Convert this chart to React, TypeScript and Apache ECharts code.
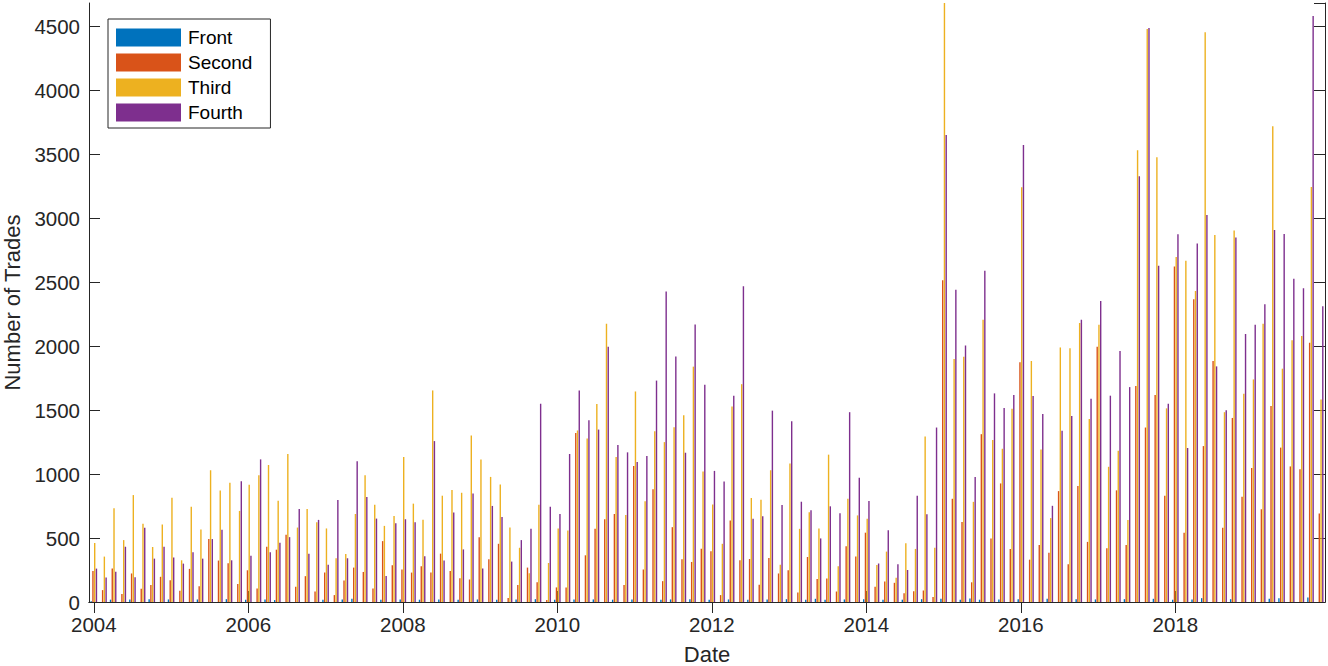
import React, { useEffect, useRef } from 'react';
import * as echarts from 'echarts';

const seriesNames = ['Front', 'Second', 'Third', 'Fourth'];
const seriesColors = ['#0072BD', '#D95319', '#EDB120', '#7E2F8E'];
const yearLabels = ['2004', '2006', '2008', '2010', '2012', '2014', '2016', '2018'];
const groupsPerLabel = 16;

const front = [
  5, 0, 18, 0, 20, 0, 22, 0, 20, 0, 0, 20, 0, 0, 22, 0,
  18, 0, 20, 15, 0, 0, 0, 0, 18, 0, 20, 25, 0, 0, 18, 0,
  20, 0, 18, 0, 20, 0, 18, 0, 20, 0, 18, 0, 20, 0, 22, 0,
  18, 0, 20, 0, 20, 0, 18, 0, 20, 0, 0, 18, 20, 0, 22, 0,
  18, 0, 20, 0, 18, 0, 20, 0, 22, 0, 18, 25, 18, 0, 20, 0,
  22, 0, 18, 0, 18, 0, 22, 0, 25, 0, 18, 28, 18, 0, 20, 0,
  22, 0, 0, 25, 0, 0, 22, 0, 20, 0, 0, 22, 0, 0, 25, 0,
  18, 0, 20, 30, 0, 0, 22, 0, 0, 0, 25, 30, 0, 0, 35, 0,
];

const second = [
  243, 93, 261, 62, 223, 104, 132, 197, 171, 88, 259, 124, 492, 324, 303, 140,
  248, 106, 432, 409, 525, 119, 202, 83, 230, 54, 168, 269, 235, 106, 476, 287,
  254, 230, 280, 230, 378, 243, 186, 176, 507, 334, 455, 31, 132, 269, 155, 15,
  114, 114, 1322, 365, 572, 647, 688, 132, 1064, 254, 882, 163, 585, 334, 313, 417,
  396, 54, 637, 326, 336, 135, 344, 223, 248, 75, 352, 179, 184, 82, 436, 355,
  542, 120, 160, 150, 69, 84, 90, 39, 2516, 807, 626, 154, 1312, 497, 927, 415,
  1875, 331, 445, 385, 867, 295, 906, 470, 1996, 421, 873, 445, 1689, 1364, 1619, 831,
  2622, 542, 2366, 1219, 1884, 581, 1439, 822, 1047, 725, 1532, 1207, 1060, 1038, 2026, 692,
];

const third = [
  461, 355, 732, 484, 836, 611, 430, 606, 815, 326, 745, 567, 1030, 872, 932, 712,
  916, 991, 1071, 792, 1157, 582, 727, 624, 575, 342, 375, 688, 991, 761, 595, 673,
  1134, 769, 644, 1654, 831, 875, 854, 1302, 1115, 978, 919, 582, 424, 225, 761, 305,
  575, 559, 1341, 1278, 1548, 2176, 1134, 681, 1646, 787, 1335, 1250, 1366, 1460, 1840, 1020,
  763, 455, 1529, 1703, 813, 800, 1030, 292, 1082, 572, 701, 575, 1152, 280, 807, 677,
  650, 289, 394, 190, 460, 415, 1294, 424, 4690, 1899, 1917, 783, 2206, 1267, 1198, 1511,
  3242, 1884, 1192, 656, 1990, 1984, 2182, 1430, 2167, 1057, 1183, 641, 3531, 4479, 3477, 1514,
  2697, 2667, 2432, 4455, 2869, 1484, 2905, 1628, 1740, 2176, 3720, 1824, 2047, 2080, 3245, 1583,
];

const fourth = [
  261, 192, 236, 432, 194, 580, 339, 432, 347, 300, 388, 339, 492, 564, 326, 945,
  362, 1115, 388, 463, 507, 727, 378, 642, 292, 797, 342, 1100, 820, 652, 204, 616,
  647, 624, 357, 1258, 324, 699, 411, 849, 261, 751, 665, 316, 484, 572, 1550, 745,
  688, 1157, 1654, 1420, 1348, 1995, 1227, 1170, 1095, 1141, 1731, 2428, 1920, 1167, 2169, 1698,
  1025, 942, 1612, 2469, 650, 670, 1496, 758, 1413, 784, 717, 497, 748, 693, 1484, 972,
  789, 301, 560, 295, 250, 831, 686, 1364, 3651, 2441, 2005, 978, 2589, 1631, 1517, 1619,
  3573, 1610, 1469, 752, 1339, 1454, 2206, 1589, 2354, 1613, 1963, 1680, 3329, 4488, 2628, 1550,
  2875, 1204, 2802, 3025, 1842, 1499, 2850, 2095, 2167, 2327, 2908, 2878, 2528, 2453, 4581, 2312,
];

const seriesValues = [front, second, third, fourth];

const FONT = '"Liberation Sans", Arial, Helvetica, sans-serif';
const INK = '#262626';
const Y_MAX = 4683;

export default function App() {
  const ref = useRef<HTMLDivElement>(null);

  useEffect(() => {
    if (!ref.current) return;
    const chart = echarts.init(ref.current, null, { renderer: 'svg' });
    const categories = second.map((_, k) => String(k));

    const xTick = { show: true, inside: true, interval: groupsPerLabel - 1, alignWithLabel: true, length: 11, lineStyle: { color: INK, width: 1 } };
    const yTick = { show: true, inside: true, length: 11, lineStyle: { color: INK, width: 1 } };

    const option: any = {
      animation: false,
      backgroundColor: '#ffffff',
      textStyle: { fontFamily: FONT },
      grid: { left: 89, right: 3, top: 3, bottom: 64, containLabel: false, outerBoundsMode: 'none' },
      legend: {
        data: seriesNames,
        orient: 'vertical',
        left: 108,
        top: 19,
        icon: 'rect',
        itemWidth: 65,
        itemHeight: 18,
        itemGap: 6,
        padding: [9, 18, 6, 8],
        borderColor: INK,
        borderWidth: 1,
        backgroundColor: '#ffffff',
        textStyle: { fontFamily: FONT, fontSize: 19, color: '#000', padding: [0, 0, 0, 2] },
      },
      xAxis: [
        {
          type: 'category',
          data: categories,
          position: 'bottom',
          boundaryGap: true,
          axisLine: { show: true, lineStyle: { color: INK, width: 1 } },
          axisTick: xTick,
          axisLabel: {
            interval: groupsPerLabel - 1,
            margin: 12,
            fontFamily: FONT,
            fontSize: 20.5,
            color: INK,
            formatter: (_v: string, i: number) => yearLabels[Math.round(i / groupsPerLabel)] ?? '',
          },
          splitLine: { show: false },
          name: 'Date',
          nameLocation: 'middle',
          nameGap: 41,
          nameTextStyle: { fontFamily: FONT, fontSize: 22, lineHeight: 22, color: INK },
        },
        {
          type: 'category',
          data: categories,
          position: 'top',
          boundaryGap: true,
          axisLine: { show: true, lineStyle: { color: INK, width: 1 } },
          axisTick: xTick,
          axisLabel: { show: false },
          splitLine: { show: false },
        },
      ],
      yAxis: [
        {
          type: 'value',
          min: 0,
          max: Y_MAX,
          interval: 500,
          position: 'left',
          axisLine: { show: true, lineStyle: { color: INK, width: 1 } },
          axisTick: yTick,
          axisLabel: {
            showMaxLabel: false,
            margin: 9,
            fontFamily: FONT,
            fontSize: 20.5,
            color: INK,
            formatter: (v: number) => String(v),
          },
          splitLine: { show: false },
          name: 'Number of Trades',
          nameLocation: 'middle',
          nameGap: 63,
          nameTextStyle: { fontFamily: FONT, fontSize: 22, lineHeight: 22, color: INK },
        },
        {
          type: 'value',
          min: 0,
          max: Y_MAX,
          interval: 500,
          position: 'right',
          axisLine: { show: true, lineStyle: { color: INK, width: 1 } },
          axisTick: yTick,
          axisLabel: { show: false },
          splitLine: { show: false },
        },
      ],
      series: seriesNames.map((name, i) => ({
        name,
        type: 'bar',
        xAxisIndex: 0,
        yAxisIndex: 0,
        data: seriesValues[i],
        barWidth: 1.4,
        barGap: '25%',
        itemStyle: { color: seriesColors[i] },
        emphasis: { disabled: true },
      })),
    };

    chart.setOption(option);
    return () => chart.dispose();
  }, []);

  return (
    <div
      ref={ref}
      style={{ position: 'fixed', left: 0, top: 0, width: 1328, height: 666, background: '#ffffff' }}
    />
  );
}
